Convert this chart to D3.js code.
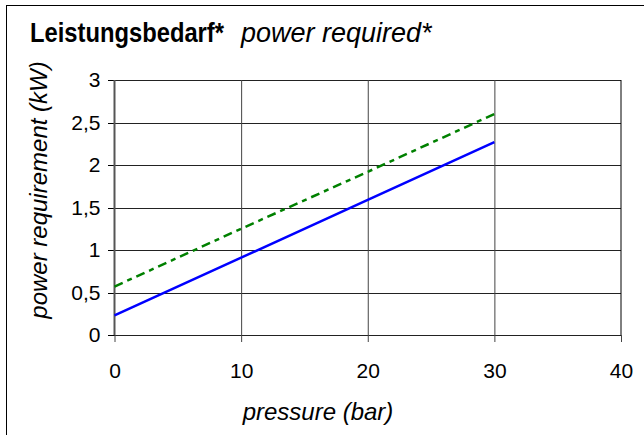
<!DOCTYPE html>
<html>
<head>
<meta charset="utf-8">
<script src="https://cdn.jsdelivr.net/npm/d3@7"></script>
<style>
  body { margin: 0; background: #fff; }
  svg { display: block; font-family: "Liberation Sans", Arial, sans-serif; }
</style>
</head>
<body>
<svg id="chart" width="644" height="435"></svg>
<script>
// pressure in bar, power in kW
const pressure = [0, 10, 20, 30];
const powerSolid = [0.23, 0.91, 1.59, 2.27];
const powerDashed = [0.57, 1.25, 1.92, 2.6];
const xTicks = [0, 10, 20, 30, 40];
const yTicks = [0, 0.5, 1, 1.5, 2, 2.5, 3];

const svg = d3.select('#chart');

// outer frame (right/bottom sides fall outside the picture)
svg.append('rect')
    .attr('x', 6.5).attr('y', 5.5)
    .attr('width', 700).attr('height', 500)
    .attr('fill', 'none').attr('stroke', '#000');

const x = d3.scaleLinear().domain([0, 40]).range([114.5, 621]);
const y = d3.scaleLinear().domain([0, 3]).range([335, 80]);
const fmt = d => d3.format('')(d).replace('.', ',');

// horizontal grid + y ticks
svg.append('g')
    .attr('transform', 'translate(114.5,0)')
    .call(d3.axisLeft(y).tickValues(yTicks).tickSize(-(621 - 114.5)).tickSizeOuter(0).tickFormat(''))
    .call(g => g.select('.domain').remove())
    .call(g => g.selectAll('.tick line').attr('stroke', '#222').attr('shape-rendering', 'crispEdges'));

svg.append('g')
    .attr('transform', 'translate(114.5,0)')
    .call(d3.axisLeft(y).tickValues(yTicks).tickSize(7).tickPadding(7).tickFormat(fmt))
    .call(g => g.select('.domain').remove())
    .call(g => g.selectAll('.tick line').attr('stroke', '#000').attr('shape-rendering', 'crispEdges'))
    .call(g => g.selectAll('.tick text').attr('font-size', 21).attr('fill', '#000').attr('font-family', null));

// vertical grid + x ticks
svg.append('g')
    .attr('transform', 'translate(0,335)')
    .call(d3.axisBottom(x).tickValues([10, 20, 30]).tickSize(-(335 - 80)).tickFormat(''))
    .call(g => g.select('.domain').remove())
    .call(g => g.selectAll('.tick line').attr('stroke', '#444'));

svg.append('g')
    .attr('transform', 'translate(0,335)')
    .call(d3.axisBottom(x).tickValues(xTicks).tickSize(7).tickPadding(21).tickFormat(d3.format('')))
    .call(g => g.select('.domain').remove())
    .call(g => g.selectAll('.tick line').attr('stroke', '#444'))
    .call(g => g.selectAll('.tick text').attr('font-size', 21).attr('fill', '#000').attr('font-family', null));

// plot border: left axis thicker grey, right edge black
svg.append('line')
    .attr('x1', x(0)).attr('x2', x(0)).attr('y1', y(3)).attr('y2', y(0))
    .attr('stroke', '#555').attr('stroke-width', 2);
svg.append('line')
    .attr('x1', x(40)).attr('x2', x(40)).attr('y1', y(3)).attr('y2', y(0))
    .attr('stroke', '#000');

const line = d3.line().x(d => x(d[0])).y(d => y(d[1]));

svg.append('path')
    .datum(pressure.map((p, i) => [p, powerDashed[i]]))
    .attr('d', line)
    .attr('fill', 'none')
    .attr('stroke', '#008000')
    .attr('stroke-width', 2.5)
    .attr('stroke-dasharray', '9,5,5,5');

svg.append('path')
    .datum(pressure.map((p, i) => [p, powerSolid[i]]))
    .attr('d', line)
    .attr('fill', 'none')
    .attr('stroke', '#0000ff')
    .attr('stroke-width', 2.5);

// title (bold part is a little condensed in the original)
svg.append('text')
    .attr('transform', 'translate(30,42) scale(0.88,1)')
    .attr('font-weight', 'bold').attr('font-size', 27)
    .text('Leistungsbedarf*');
svg.append('text')
    .attr('x', 241).attr('y', 42)
    .attr('font-style', 'italic').attr('font-size', 27)
    .text('power required*');

// axis titles
svg.append('text')
    .attr('x', 318).attr('y', 420)
    .attr('text-anchor', 'middle')
    .attr('font-style', 'italic').attr('font-size', 24)
    .text('pressure (bar)');

svg.append('text')
    .attr('transform', 'translate(47,190) rotate(-90)')
    .attr('text-anchor', 'middle')
    .attr('font-style', 'italic').attr('font-size', 24)
    .text('power requirement (kW)');
</script>
</body>
</html>
